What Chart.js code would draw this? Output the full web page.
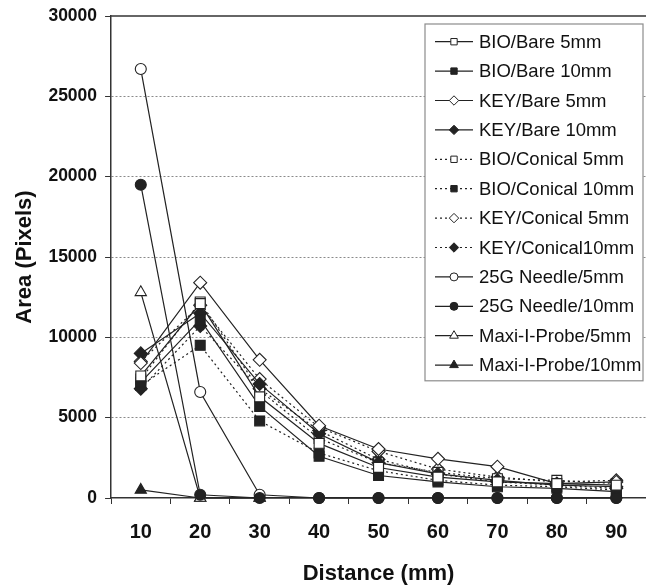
<!DOCTYPE html>
<html>
<head>
<meta charset="utf-8">
<script src="https://cdn.jsdelivr.net/npm/chart.js@4.4.0/dist/chart.umd.min.js"></script>
<style>
  html, body { margin: 0; padding: 0; background: #fff; }
  #wrap { width: 646px; height: 587px; }
</style>
</head>
<body>
<div id="wrap"><canvas id="areaChart" width="646" height="587"></canvas></div>
<script>
/* Area vs distance - probe comparison */

const distances = ['10', '20', '30', '40', '50', '60', '70', '80', '90'];
const yTicks = [0, 5000, 10000, 15000, 20000, 25000, 30000];

const bioBare5 = [7600, 12100, 6300, 3400, 1900, 1300, 1000, 900, 800];
const bioBare10 = [7200, 11100, 5700, 2600, 1400, 1000, 700, 600, 400];
const keyBare5 = [8400, 13400, 8600, 4500, 3050, 2440, 1950, 900, 1000];
const keyBare10 = [9000, 11500, 7100, 4000, 2200, 1500, 1100, 800, 700];
const bioCon5 = [7400, 12200, 6700, 3700, 2200, 1600, 1200, 1100, 900];
const bioCon10 = [7000, 9500, 4800, 2800, 1700, 1100, 800, 700, 500];
const keyCon5 = [8500, 12000, 7400, 4400, 2900, 1800, 1300, 1000, 1100];
const keyCon10 = [6800, 10700, 6800, 4200, 2400, 1500, 1000, 800, 600];
const needle5 = [26700, 6600, 200, 0, 0, 0, 0, 0, 0];
const needle10 = [19500, 200, 0, 0, 0, 0, 0, 0, 0];
const maxi5 = [12800, 0, 0, null, null, null, null, null, null];
const maxi10 = [500, 0, 0, null, null, null, null, null, null];

const FONT = '"Liberation Sans", Arial, sans-serif';
const INK = '#222';

// label, data, marker shape, filled, dotted line
const series = [
    ['BIO/Bare 5mm', bioBare5, 'rect', false, false],
    ['BIO/Bare 10mm', bioBare10, 'rect', true, false],
    ['KEY/Bare 5mm', keyBare5, 'rectRot', false, false],
    ['KEY/Bare 10mm', keyBare10, 'rectRot', true, false],
    ['BIO/Conical 5mm', bioCon5, 'rect', false, true],
    ['BIO/Conical 10mm', bioCon10, 'rect', true, true],
    ['KEY/Conical 5mm', keyCon5, 'rectRot', false, true],
    ['KEY/Conical10mm', keyCon10, 'rectRot', true, true],
    ['25G Needle/5mm', needle5, 'circle', false, false],
    ['25G Needle/10mm', needle10, 'circle', true, false],
    ['Maxi-I-Probe/5mm', maxi5, 'triangle', false, false],
    ['Maxi-I-Probe/10mm', maxi10, 'triangle', true, false]
];

const pointSize = { rect: 7, rectRot: 6.5, circle: 5.5, triangle: 6.5 };
const legendSize = { rect: 4.5, rectRot: 4.7, circle: 4, triangle: 5 };

const datasets = series.map(([label, data, shape, filled, dotted], i) => ({
    label: label,
    data: data,
    borderColor: INK,
    borderWidth: 1.2,
    borderDash: dotted ? [2, 3] : [],
    pointStyle: shape,
    pointRadius: pointSize[shape],
    pointBorderWidth: 1.1,
    pointBorderColor: INK,
    pointBackgroundColor: filled ? INK : '#ffffff',
    fill: false,
    tension: 0,
    spanGaps: false,
    clip: false,
    order: label === '25G Needle/10mm' ? -1 : i,
    _shape: shape,
    _filled: filled,
    _dotted: dotted
}));

function drawMarker(ctx, shape, x, y, r, filled) {
    ctx.beginPath();
    if (shape === 'rect') {
        const s = Math.SQRT1_2 * r;
        ctx.rect(x - s, y - s, 2 * s, 2 * s);
    } else if (shape === 'rectRot') {
        ctx.moveTo(x, y - r);
        ctx.lineTo(x + r, y);
        ctx.lineTo(x, y + r);
        ctx.lineTo(x - r, y);
        ctx.closePath();
    } else if (shape === 'circle') {
        ctx.arc(x, y, r, 0, Math.PI * 2);
    } else {
        for (let k = 0; k < 3; k++) {
            const a = k * 2 * Math.PI / 3;
            const px = x + Math.sin(a) * r;
            const py = y - Math.cos(a) * r;
            if (k === 0) ctx.moveTo(px, py); else ctx.lineTo(px, py);
        }
        ctx.closePath();
    }
    ctx.fillStyle = filled ? INK : '#ffffff';
    ctx.fill();
    ctx.lineWidth = 1;
    ctx.strokeStyle = INK;
    ctx.stroke();
}

// top frame line of the plot area
const plotFrame = {
    id: 'plotFrame',
    beforeDatasetsDraw(chart) {
        const { ctx, chartArea } = chart;
        ctx.save();
        ctx.strokeStyle = '#333';
        ctx.lineWidth = 1.5;
        ctx.beginPath();
        ctx.moveTo(chartArea.left, chartArea.top);
        ctx.lineTo(chartArea.right, chartArea.top);
        ctx.stroke();
        ctx.restore();
    }
};

// boxed legend inside the plot, top right
const insideLegend = {
    id: 'insideLegend',
    afterDraw(chart) {
        const { ctx, chartArea } = chart;
        const sets = chart.data.datasets;
        const rowH = 29.4;
        const x0 = chartArea.right - 221;
        const y0 = chartArea.top + 8;
        const w = 218;
        const h = rowH * sets.length + 4;
        ctx.save();
        ctx.fillStyle = '#ffffff';
        ctx.fillRect(x0, y0, w, h);
        ctx.strokeStyle = '#8c8c8c';
        ctx.lineWidth = 1.2;
        ctx.strokeRect(x0, y0, w, h);
        ctx.font = '18.5px ' + FONT;
        ctx.textBaseline = 'middle';
        sets.forEach((ds, i) => {
            const cy = y0 + 17.7 + i * rowH;
            ctx.save();
            ctx.strokeStyle = INK;
            ctx.lineWidth = 1.2;
            ctx.setLineDash(ds._dotted ? [2, 3] : []);
            ctx.beginPath();
            ctx.moveTo(x0 + 10, cy);
            ctx.lineTo(x0 + 48, cy);
            ctx.stroke();
            ctx.restore();
            drawMarker(ctx, ds._shape, x0 + 29, cy, legendSize[ds._shape], ds._filled);
            ctx.fillStyle = '#111';
            ctx.fillText(ds.label, x0 + 54, cy + 1);
        });
        ctx.restore();
    }
};

new Chart(document.getElementById('areaChart'), {
    type: 'line',
    data: { labels: distances, datasets: datasets },
    options: {
        responsive: false,
        animation: false,
        layout: { autoPadding: false, padding: { top: 16, left: 12, right: 0, bottom: 0 } },
        plugins: {
            legend: { display: false },
            tooltip: { enabled: false }
        },
        scales: {
            x: {
                type: 'category',
                offset: true,
                afterFit: s => { s.paddingRight = 0; s.paddingLeft = 0; },
                grid: { offset: true, drawOnChartArea: false, tickLength: 6, color: '#333', tickColor: '#333' },
                border: { color: '#333', width: 1.5 },
                ticks: { color: '#111', font: { family: FONT, size: 20, weight: 'bold' }, padding: 16, maxRotation: 0, autoSkip: false },
                title: { display: true, text: 'Distance (mm)', color: '#111', font: { family: FONT, size: 22, weight: 'bold' }, padding: { top: 0.6, bottom: 0 } }
            },
            y: {
                min: 0,
                max: 30000,
                afterFit: s => { s.paddingTop = 0; s.paddingBottom = 0; },
                afterBuildTicks: axis => { axis.ticks = yTicks.map(v => ({ value: v })); },
                ticks: { color: '#111', font: { family: FONT, size: 17.5, weight: 'bold' }, padding: 8, callback: v => String(v) },
                grid: {
                    color: c => (c.tick && (c.tick.value === 0 || c.tick.value === 30000)) ? 'rgba(0,0,0,0)' : '#8a8a8a',
                    tickColor: '#333',
                    tickLength: 6,
                    lineWidth: 1
                },
                border: { color: '#333', width: 1.5, dash: [2, 2] },
                title: { display: true, text: 'Area (Pixels)', color: '#111', font: { family: FONT, size: 22, weight: 'bold' }, padding: { top: 0, bottom: 2 } }
            }
        }
    },
    plugins: [plotFrame, insideLegend]
});
</script>
</body>
</html>
